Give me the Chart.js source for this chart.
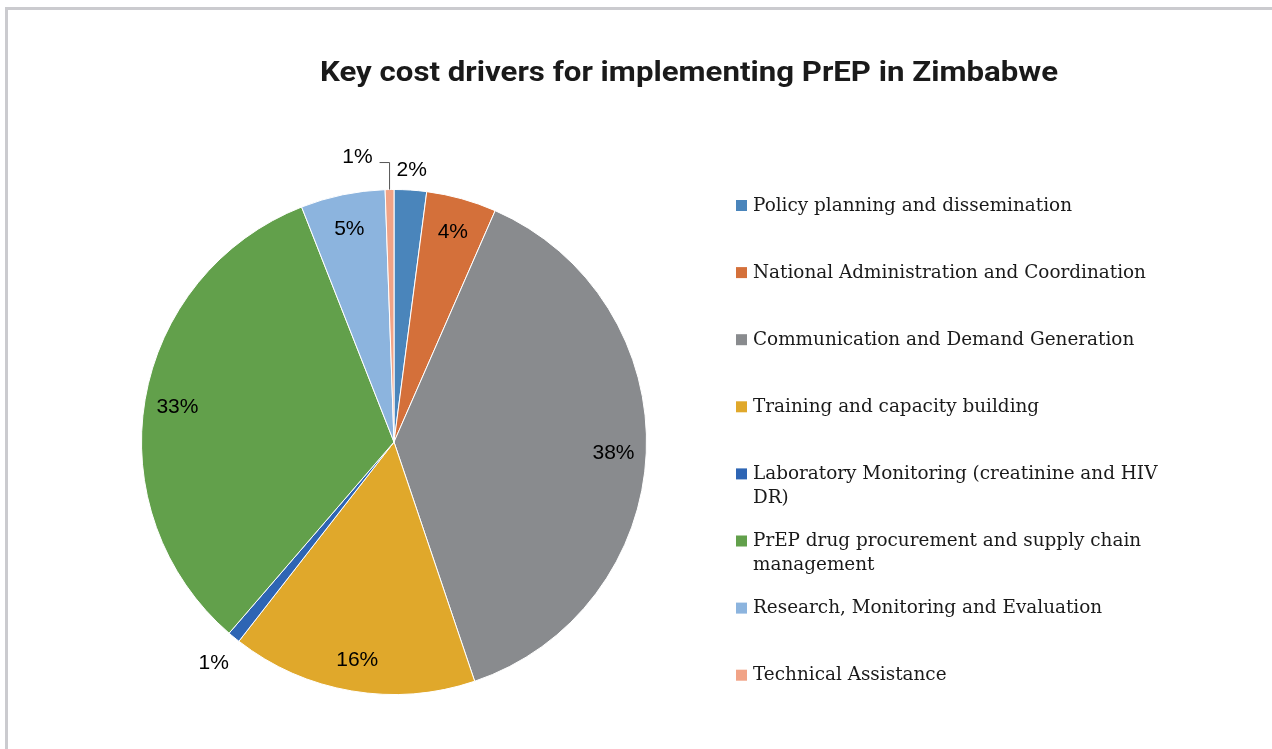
<!DOCTYPE html>
<html>
<head>
<meta charset="utf-8">
<script src="https://cdn.jsdelivr.net/npm/chart.js@4.4.1/dist/chart.umd.min.js"></script>
<style>
    html, body { margin: 0; padding: 0; background: #fff; }
    #wrap { position: relative; width: 1272px; height: 749px; overflow: hidden; }
    #moldura { position: absolute; left: 5px; top: 7px; right: -10px; bottom: -10px;
        border-top: 3px solid #cbcbcf; border-left: 3px solid #cbcbcf; }
    canvas { position: absolute; left: 0; top: 0; }
</style>
</head>
<body>
<div id="wrap">
    <div id="moldura"></div>
    <canvas id="pieChart" width="1272" height="749"></canvas>
</div>
<script>
const titulo = 'Key cost drivers for implementing PrEP in Zimbabwe';
const categorias = [
    'Policy planning and dissemination',
    'National Administration and Coordination',
    'Communication and Demand Generation',
    'Training and capacity building',
    ['Laboratory Monitoring (creatinine and HIV', 'DR)'],
    ['PrEP drug procurement and supply chain', 'management'],
    'Research, Monitoring and Evaluation',
    'Technical Assistance'
];
const valores = [2.07, 4.49, 38.25, 15.7, 0.8, 32.7, 5.4, 0.56];
const cores = ['#4a85bb', '#d4703a', '#898b8e', '#e0a82b', '#2e65b4', '#62a04b', '#8cb4de', '#f1a386'];

// rótulos fora da pizza (fatias pequenas); null = dentro
const foraDaPizza = [
    { r: 21 },
    null, null, null,
    { r: 32 },
    null, null,
    { elbow: 27, perna: 10 }
];

(function () {
    const total = valores.reduce((a, b) => a + b, 0);

    // título
    const pluginTitulo = {
        id: 'titulo',
        afterDraw(chart) {
            const ctx = chart.ctx;
            ctx.save();
            ctx.font = 'bold 28px Roboto, "Liberation Sans", sans-serif';
            const w = ctx.measureText(titulo).width;
            ctx.translate(689, 81);
            ctx.scale(738 / w, 1);
            ctx.fillStyle = '#1a1a1a';
            ctx.textAlign = 'center';
            ctx.textBaseline = 'alphabetic';
            ctx.fillText(titulo, 0, 0);
            ctx.restore();
        }
    };

    // legenda à direita
    const pluginLegenda = {
        id: 'legendaLateral',
        afterDraw(chart) {
            const ctx = chart.ctx;
            ctx.save();
            ctx.font = '18px "DejaVu Serif", "Liberation Serif", serif';
            // largura de referência: primeira entrada ocupa ~319px
            const escala = 319 / ctx.measureText(categorias[0]).width;
            ctx.textAlign = 'left';
            ctx.textBaseline = 'middle';
            categorias.forEach((cat, i) => {
                const y = 206 + i * 67.1;
                ctx.fillStyle = cores[i];
                ctx.fillRect(736, y - 6, 11, 11);
                ctx.fillStyle = '#1a1a1a';
                const linhas = Array.isArray(cat) ? cat : [cat];
                linhas.forEach((l, j) => {
                    ctx.save();
                    ctx.translate(753, y + j * 24);
                    ctx.scale(escala, 1);
                    ctx.fillText(l, 0, 0);
                    ctx.restore();
                });
            });
            ctx.restore();
        }
    };

    // percentuais
    const pluginRotulos = {
        id: 'rotulos',
        afterDatasetsDraw(chart) {
            const ctx = chart.ctx;
            const meta = chart.getDatasetMeta(0);
            ctx.save();
            ctx.font = '21px "Liberation Sans", Arial, sans-serif';
            ctx.fillStyle = '#000';
            ctx.textBaseline = 'middle';
            meta.data.forEach((arc, i) => {
                const p = arc.getProps(['x', 'y', 'startAngle', 'endAngle', 'outerRadius'], true);
                const mid = (p.startAngle + p.endAngle) / 2;
                const txt = Math.round(valores[i] / total * 100) + '%';
                const fora = foraDaPizza[i];
                ctx.textAlign = 'center';
                if (!fora) {
                    const r = p.outerRadius * 0.87;
                    ctx.fillText(txt, p.x + Math.cos(mid) * r, p.y + Math.sin(mid) * r + 2);
                } else if (fora.elbow) {
                    const ax = p.x + Math.cos(mid) * p.outerRadius;
                    const ay = p.y + Math.sin(mid) * p.outerRadius;
                    const ey = ay - fora.elbow;
                    const ex = ax - fora.perna;
                    ctx.strokeStyle = '#555';
                    ctx.lineWidth = 1;
                    ctx.beginPath();
                    ctx.moveTo(ax, ay);
                    ctx.lineTo(ax, ey);
                    ctx.lineTo(ex, ey);
                    ctx.stroke();
                    ctx.textAlign = 'right';
                    ctx.fillText(txt, ex - 7, ey - 5);
                } else {
                    const r = p.outerRadius + fora.r;
                    ctx.fillText(txt, p.x + Math.cos(mid) * r, p.y + Math.sin(mid) * r + 1);
                }
            });
            ctx.restore();
        }
    };

    const graficoPizza = document.getElementById('pieChart');
    new Chart(graficoPizza, {
        type: 'pie',
        data: {
            labels: categorias,
            datasets: [{
                data: valores,
                backgroundColor: cores,
                borderColor: '#ffffff',
                borderWidth: 1
            }]
        },
        options: {
            responsive: false,
            animation: false,
            devicePixelRatio: 1,
            layout: { padding: { left: 141, top: 189, right: 625, bottom: 54 } },
            plugins: {
                legend: { display: false },
                title: { display: false },
                tooltip: { enabled: false }
            }
        },
        plugins: [pluginRotulos, pluginTitulo, pluginLegenda]
    });
})();
</script>
</body>
</html>
